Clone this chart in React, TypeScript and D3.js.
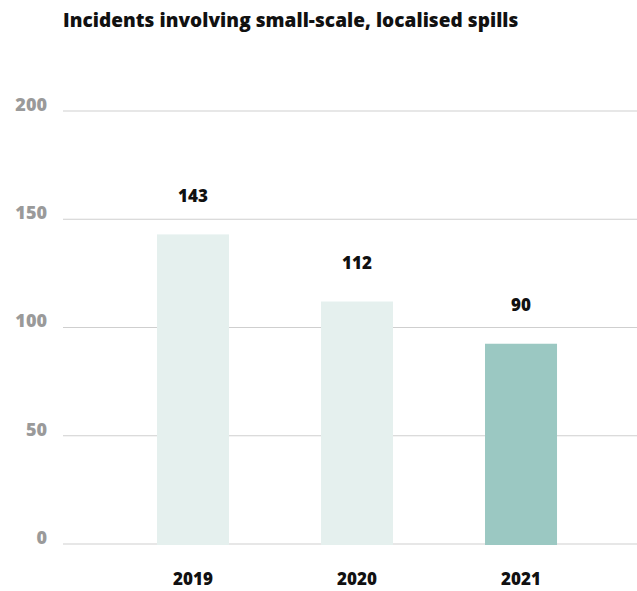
import React from "react";
import * as d3 from "d3";

const title = "Incidents involving small-scale, localised spills";
const years = ["2019", "2020", "2021"];
const barValues = [143, 112, 92.5];
const valueLabels = ["143", "112", "90"];
const yTicks = [0, 50, 100, 150, 200];
const highlightYear = "2021";

const W = 637;
const H = 591;
const FONT = "'Open Sans', sans-serif";

export default function App() {
  const y = d3.scaleLinear().domain([0, 200]).range([544, 111]);
  const x = d3
    .scaleBand<string>()
    .domain(years)
    .range([63, 651])
    .paddingInner(0.561)
    .paddingOuter(0.573);

  return (
    <svg
      width={W}
      height={H}
      style={{ position: "absolute", left: 0, top: 0, background: "#fff" }}
      fontFamily={FONT}
    >
      <text x={63} y={27} fontSize={19} fontWeight={800} fill="#111" letterSpacing={0.05}>
        {title}
      </text>
      {yTicks.map((t) => (
        <g key={t}>
          <line x1={63} x2={637} y1={y(t)} y2={y(t)} stroke="#cfcfcf" strokeWidth={1.2} />
          <text
            x={47}
            y={y(t) - 5}
            textAnchor="end"
            dominantBaseline="middle"
            fontSize={18}
            fontWeight={800}
            fill="#9a9a9a"
          >
            {t}
          </text>
        </g>
      ))}
      {years.map((yr, i) => {
        const x0 = x(yr)!;
        const top = y(barValues[i]);
        return (
          <g key={yr}>
            <rect
              x={x0}
              y={top}
              width={x.bandwidth()}
              height={y(0) - top + 1}
              fill={yr === highlightYear ? "#9bc8c2" : "#e5f0ee"}
            />
            <text
              x={x0 + x.bandwidth() / 2}
              y={top - 37}
              textAnchor="middle"
              dominantBaseline="middle"
              fontSize={17}
              fontWeight={800}
              fill="#111"
            >
              {valueLabels[i]}
            </text>
            <text
              x={x0 + x.bandwidth() / 2}
              y={580}
              textAnchor="middle"
              dominantBaseline="middle"
              fontSize={17}
              fontWeight={800}
              fill="#111"
            >
              {yr}
            </text>
          </g>
        );
      })}
    </svg>
  );
}
